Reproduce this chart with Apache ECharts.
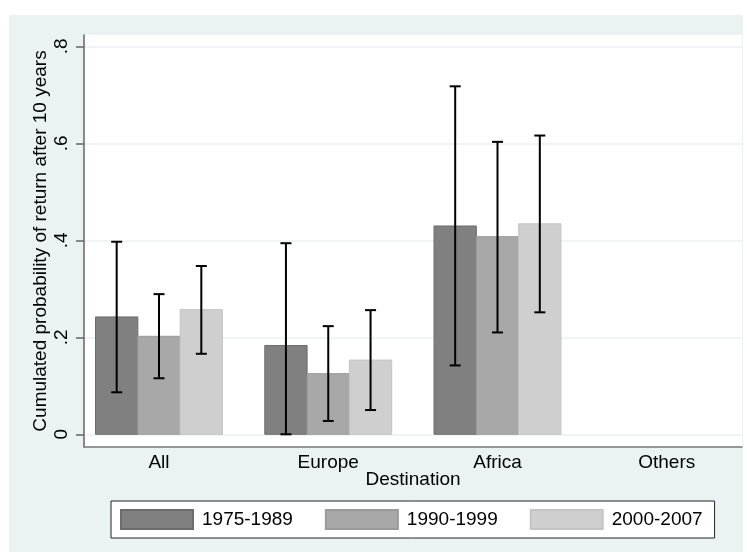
<!DOCTYPE html>
<html>
<head>
<meta charset="utf-8">
<script src="https://cdn.jsdelivr.net/npm/echarts@6/dist/echarts.min.js"></script>
<style>
html,body{margin:0;padding:0;background:#ffffff;}
#chart{width:747px;height:552px;}
</style>
</head>
<body>
<div id="chart"></div>
<script>
const categories = ['All', 'Europe', 'Africa', 'Others'];
const periods = ['1975-1989', '1990-1999', '2000-2007'];
const mean1975 = [0.242, 0.183, 0.4295, null];
const lo1975   = [0.0866, 0.0, 0.142, null];
const hi1975   = [0.397, 0.394, 0.7175, null];
const mean1990 = [0.202, 0.125, 0.4075, null];
const lo1990   = [0.1155, 0.0275, 0.210, null];
const hi1990   = [0.289, 0.223, 0.603, null];
const mean2000 = [0.257, 0.153, 0.434, null];
const lo2000   = [0.166, 0.050, 0.2515, null];
const hi2000   = [0.347, 0.256, 0.616, null];
const yTickValues = [0, 0.2, 0.4, 0.6, 0.8];
const yTickLabels = ['0', '.2', '.4', '.6', '.8'];

const means = [mean1975, mean1990, mean2000];
const lows = [lo1975, lo1990, lo2000];
const highs = [hi1975, hi1990, hi2000];
const fills = ['#808080', '#a8a8a8', '#cfcfcf'];
const borders = ['#6c6c6c', '#9a9a9a', '#c4c4c4'];
const barW = 0.25;
const FONT = 'Liberation Sans, Arial, sans-serif';

const chart = echarts.init(document.getElementById('chart'), null, {renderer: 'canvas'});

const series = [];
periods.forEach((p, k) => {
  const off = (k - 1) * barW;
  const data = [];
  means[k].forEach((v, i) => { if (v !== null) data.push([i, v]); });
  series.push({
    name: p,
    type: 'custom',
    itemStyle: {color: fills[k], borderColor: borders[k], borderWidth: 1},
    data: data,
    z: 2,
    renderItem: function (params, api) {
      const idx = api.value(0);
      const v = api.value(1);
      const a = api.coord([idx + off - barW / 2, v]);
      const b = api.coord([idx + off + barW / 2, 0]);
      return {
        type: 'rect',
        shape: {x: a[0], y: a[1], width: b[0] - a[0], height: b[1] - a[1]},
        style: {fill: fills[k], stroke: borders[k], lineWidth: 1}
      };
    }
  });
});
periods.forEach((p, k) => {
  const off = (k - 1) * barW;
  const data = [];
  means[k].forEach((v, i) => { if (v !== null) data.push([i, lows[k][i], highs[k][i]]); });
  series.push({
    name: 'ci ' + p,
    type: 'custom',
    data: data,
    z: 5,
    renderItem: function (params, api) {
      const idx = api.value(0);
      const lo = api.coord([idx + off, api.value(1)]);
      const hi = api.coord([idx + off, api.value(2)]);
      const cw = 5.5;
      const st = {stroke: '#000000', lineWidth: 2};
      return {
        type: 'group',
        children: [
          {type: 'line', shape: {x1: hi[0], y1: hi[1], x2: lo[0], y2: lo[1]}, style: st},
          {type: 'line', shape: {x1: hi[0] - cw, y1: hi[1], x2: hi[0] + cw, y2: hi[1]}, style: st},
          {type: 'line', shape: {x1: lo[0] - cw, y1: lo[1], x2: lo[0] + cw, y2: lo[1]}, style: st}
        ]
      };
    }
  });
});

const option = {
  animation: false,
  backgroundColor: '#ffffff',
  textStyle: {fontFamily: FONT},
  graphic: [{
    type: 'rect', z: -10, silent: true,
    shape: {x: 9, y: 15, width: 734, height: 537},
    style: {fill: '#eaf2f3'}
  }],
  grid: {
    left: 84, top: 35, width: 658, height: 412,
    show: true, backgroundColor: '#ffffff', borderWidth: 0
  },
  legend: {
    data: periods,
    left: 111, top: 501,
    orient: 'horizontal',
    icon: 'rect',
    itemWidth: 72, itemHeight: 19, itemGap: 32,
    padding: [8, 12, 8, 9],
    backgroundColor: '#ffffff',
    borderColor: '#222222', borderWidth: 1,
    textStyle: {fontSize: 19, color: '#000000', fontFamily: FONT, padding: [0, 0, 0, 4]},
    selectedMode: false
  },
  xAxis: {
    type: 'value',
    min: -0.4431, max: 3.4446,
    name: 'Destination',
    nameLocation: 'middle',
    nameGap: 23,
    nameMoveOverlap: false,
    nameTextStyle: {fontSize: 19, color: '#000000', fontFamily: FONT},
    axisLine: {show: true, onZero: false, lineStyle: {color: '#777777', width: 1.5}},
    axisTick: {show: false},
    splitLine: {show: false},
    axisLabel: {
      customValues: [0, 1, 2, 3],
      formatter: function (v) { return categories[Math.round(v)]; },
      fontSize: 19, color: '#000000', margin: 6, fontFamily: FONT
    }
  },
  yAxis: {
    type: 'value',
    min: -0.0262, max: 0.8233,
    name: 'Cumulated probability of return after 10 years',
    nameLocation: 'middle',
    nameRotate: 90,
    nameGap: 34,
    nameMoveOverlap: false,
    nameTextStyle: {fontSize: 19, color: '#000000', fontFamily: FONT},
    axisLine: {show: true, onZero: false, lineStyle: {color: '#666666', width: 1.5}},
    axisTick: {show: true, customValues: yTickValues, length: 8, lineStyle: {color: '#666666', width: 1.5}},
    splitLine: {show: true, lineStyle: {color: '#eaf2f3', width: 1.5}},
    axisLabel: {
      customValues: yTickValues,
      rotate: 90,
      formatter: function (v) {
        for (let i = 0; i < yTickValues.length; i++) {
          if (Math.abs(yTickValues[i] - v) < 1e-6) return yTickLabels[i];
        }
        return '';
      },
      fontSize: 19, color: '#000000', margin: 13, fontFamily: FONT
    }
  },
  series: series
};
chart.setOption(option);
</script>
</body>
</html>
